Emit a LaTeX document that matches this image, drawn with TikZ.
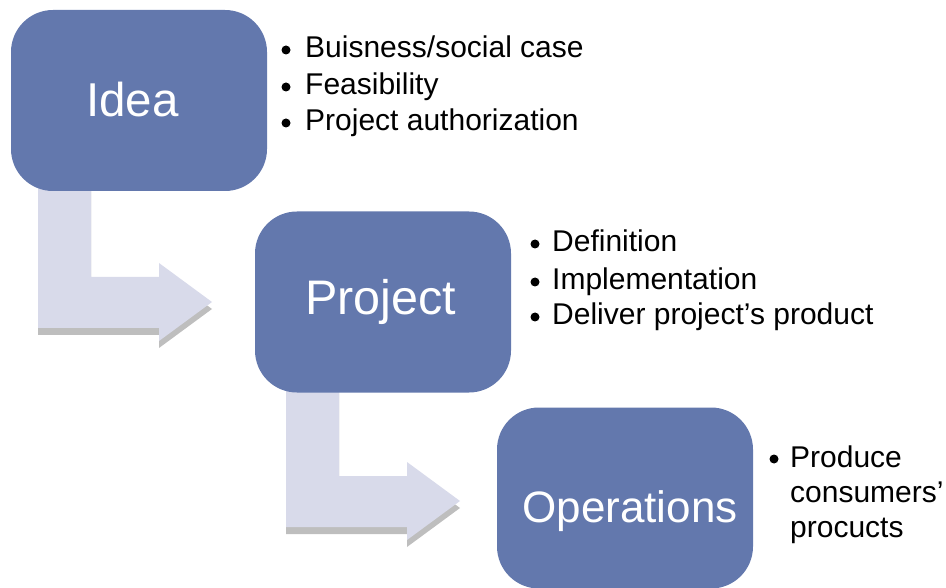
\documentclass[tikz,border=0pt]{standalone}
\usepackage{fontspec}
\setmainfont{Liberation Sans}
\definecolor{boxblue}{RGB}{99,120,173}
\definecolor{arrowfill}{RGB}{216,218,234}
\definecolor{shadowgrey}{RGB}{190,190,190}
\begin{document}
\begin{tikzpicture}[x=1pt,y=-1pt,
  stagebox/.style={draw=none,fill=boxblue,rounded corners=42pt,text=white,
    minimum width=256pt,minimum height=181pt,inner sep=0pt},
  stagetext/.style={anchor=base,text=white,inner sep=0pt},
  bullettext/.style={anchor=base west,inner sep=0pt,font=\fontsize{30}{34}\selectfont},
  bulletdot/.style={circle,fill=black,inner sep=0pt,minimum size=9pt}]
\useasboundingbox (0,0) rectangle (946,588);
% block arrows
\foreach \dx/\dy/\nm in {0/0/arrA,248/199/arrB}{
  \begin{scope}[shift={(\dx,\dy)}]
    \fill[shadowgrey] (38,187) -- (91,187) -- (91,284) -- (159,284) -- (159,270) -- (212,309) -- (159,348) -- (159,335) -- (38,335) -- cycle;
    \fill[arrowfill] (38,180) -- (91,180) -- (91,277) -- (159,277) -- (159,263) -- (212,302) -- (159,341) -- (159,328) -- (38,328) -- cycle;
  \end{scope}}
% boxes
\node[stagebox] (idea) at (139,100.5) {};
\node[stagebox] (project) at (383,302) {};
\node[stagebox] (ops) at (625,498) {};
\node[stagetext,font=\fontsize{47.5}{50}\selectfont] (ideat) at (132.5,117) {Idea};
\node[stagetext,font=\fontsize{48.5}{50}\selectfont] (projectt) at (380.5,315) {Project};
\node[stagetext,font=\fontsize{44}{50}\selectfont] (opst) at (630,522) {Operations};
% bullets Idea
\node[bulletdot] (b1) at (286,50) {};
\node[bulletdot] (b2) at (286,87) {};
\node[bulletdot] (b3) at (286,123) {};
\node[bullettext] (t1) at (305,58) {Buisness/social case};
\node[bullettext] (t2) at (305,95) {Feasibility};
\node[bullettext] (t3) at (305,131) {Project authorization};
% bullets Project
\node[bulletdot] (b4) at (535,244) {};
\node[bulletdot] (b5) at (535,282) {};
\node[bulletdot] (b6) at (535,317) {};
\node[bullettext] (t4) at (552,252) {Definition};
\node[bullettext] (t5) at (552,290) {Implementation};
\node[bullettext] (t6) at (552,325) {Deliver project’s product};
% bullets Operations
\node[bulletdot] (b7) at (774,459) {};
\node[bullettext] (t7) at (790,467) {Produce};
\node[bullettext] (t8) at (790,502) {consumers’};
\node[bullettext] (t9) at (790,537) {procucts};
\end{tikzpicture}
\end{document}
